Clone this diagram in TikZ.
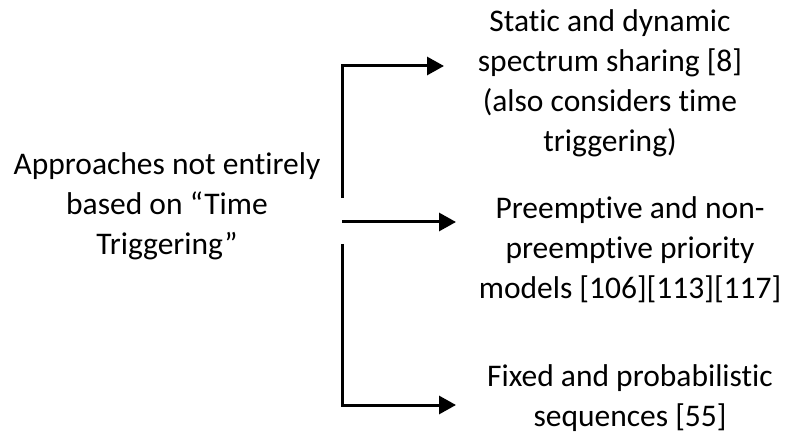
\documentclass[tikz,border=0pt]{standalone}
\usepackage{fontspec}
\setmainfont[Ligatures=NoCommon]{Carlito}
\usetikzlibrary{arrows.meta}
\begin{document}
\begin{tikzpicture}[x=1bp,y=-1bp,
  label/.style={align=center, inner sep=0pt, font=\fontsize{31.5bp}{40bp}\selectfont},
  branch/.style={line width=3bp, -{Triangle[length=17bp,width=18bp]}}]
\useasboundingbox (0,0) rectangle (787,435);
% source label
\node[label] (src) at (167,206) {Approaches not entirely\\based on “Time\\Triggering”};
% target labels
\node[label] (t1) at (610,83) {Static and dynamic\\spectrum sharing [8]\\(also considers time\\triggering)};
\node[label] (t2) at (630,250) {Preemptive and non-\\preemptive priority\\models [106][113][117]};
\node[label] (t3) at (630,398) {Fixed and probabilistic\\sequences [55]};
% branch end points
\coordinate (b1s) at (342,198);
\coordinate (b1e) at (444,66);
\coordinate (b2s) at (342,222);
\coordinate (b2e) at (456,222);
\coordinate (b3s) at (342,244);
\coordinate (b3e) at (456,405);
% branches
\draw[branch] (b1s) |- (b1e);
\draw[branch] (b2s) -- (b2e);
\draw[branch] (b3s) |- (b3e);
\end{tikzpicture}
\end{document}
